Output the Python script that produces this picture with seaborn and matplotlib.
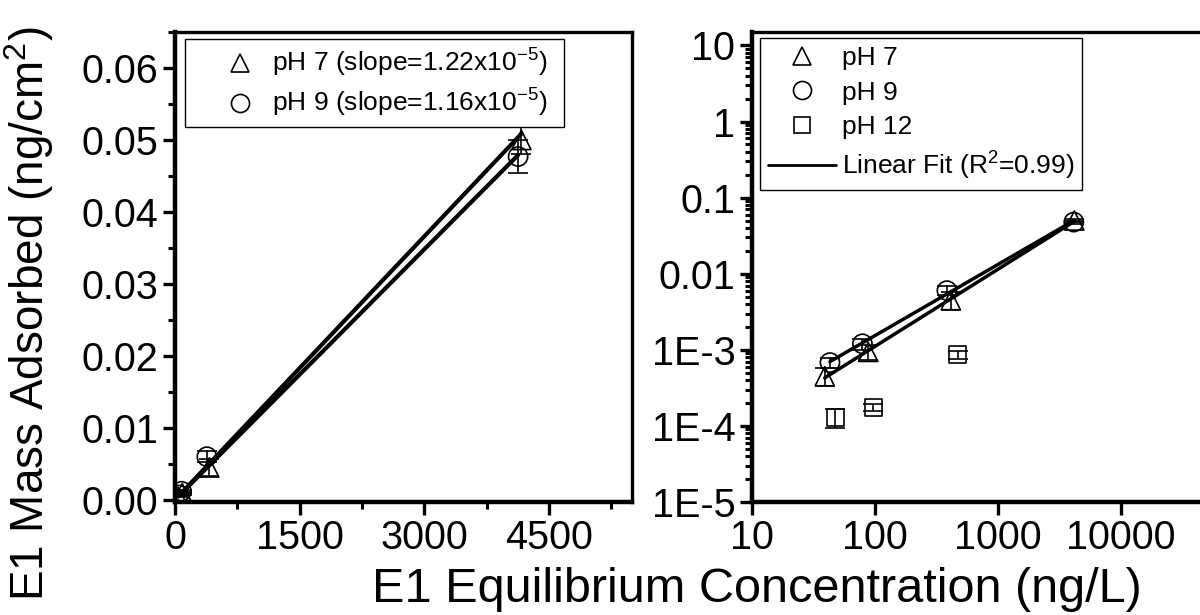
import numpy as np
import pandas as pd
import matplotlib
matplotlib.use("Agg")
import matplotlib.pyplot as plt
import seaborn as sns
from matplotlib.lines import Line2D
from matplotlib.ticker import FixedLocator, MultipleLocator, LogLocator, FuncFormatter, NullFormatter

# data
ph7_x = [39, 88, 413, 4170]
ph7_y = [0.00045, 0.00094, 0.0045, 0.0500]
ph7_err = [0.00012, 0.0002, 0.0012, 0.002]

ph9_x = [43, 79, 384, 4130]
ph9_y = [0.00068, 0.0012, 0.0060, 0.0477]
ph9_err = [0.0001, 0.0002, 0.0008, 0.0023]

ph12_x = [47.6, 97, 471]
ph12_y = [0.00013, 0.000177, 0.00086]
ph12_err = [0.000035, 0.00002, 0.0001]

slope7 = 1.22e-5
slope9 = 1.16e-5

sns.set_style("ticks")
plt.rcParams['font.family'] = ['Liberation Sans', 'DejaVu Sans']
plt.rcParams['mathtext.fontset'] = 'custom'
plt.rcParams['mathtext.rm'] = 'Liberation Sans'
plt.rcParams['mathtext.it'] = 'Liberation Sans:italic'
plt.rcParams['text.color'] = 'black'
plt.rcParams['axes.edgecolor'] = 'black'

df7 = pd.DataFrame({"x": ph7_x, "y": ph7_y})
df9 = pd.DataFrame({"x": ph9_x, "y": ph9_y})
df12 = pd.DataFrame({"x": ph12_x, "y": ph12_y})

fig = plt.figure(figsize=(12, 6.15), dpi=100)
ax1 = fig.add_axes([0.1458, 0.1837, 0.3808, 0.7642])
ax2 = fig.add_axes([0.6267, 0.1837, 0.41, 0.7642])

msize = 190
for ax in (ax1, ax2):
    for d, err, mk in ((df7, ph7_err, '^'), (df9, ph9_err, 'o')):
        ax.errorbar(d["x"], d["y"], yerr=err, fmt='none', ecolor='black',
                    elinewidth=1.2, capsize=7, capthick=1.2, zorder=2)
        sns.scatterplot(data=d, x="x", y="y", marker=mk, s=msize, facecolor='none',
                        edgecolor='black', linewidth=1.2, ax=ax, zorder=3)

# left: linear fits through origin
for d, sl in ((df7, slope7), (df9, slope9)):
    xs = np.array([d["x"].min(), d["x"].max()])
    sns.lineplot(x=xs, y=sl * xs, color='black', lw=3, ax=ax1, zorder=4)

# right: fits in log space
ax2.errorbar(df12["x"], df12["y"], yerr=ph12_err, fmt='none', ecolor='black',
             elinewidth=1.2, capsize=7, capthick=1.2, zorder=2)
sns.scatterplot(data=df12, x="x", y="y", marker='s', s=150, facecolor='none',
                edgecolor='black', linewidth=1.2, ax=ax2, zorder=3)
for d in (df7, df9):
    p = np.polyfit(np.log10(d["x"]), np.log10(d["y"]), 1)
    xs = np.array([d["x"].min(), d["x"].max()])
    sns.lineplot(x=xs, y=10 ** np.polyval(p, np.log10(xs)), color='black', lw=2.5, ax=ax2, zorder=4)

# axes styling
ax1.set_xlim(0, 5500)
ax1.set_ylim(-0.0003, 0.065)
ax1.xaxis.set_major_locator(FixedLocator([0, 1500, 3000, 4500]))
ax1.xaxis.set_minor_locator(MultipleLocator(750))
ax1.yaxis.set_major_locator(MultipleLocator(0.01))
ax1.yaxis.set_minor_locator(MultipleLocator(0.005))
ax1.yaxis.set_major_formatter(FuncFormatter(lambda v, p: f"{v:.2f}"))

ax2.set_xscale('log')
ax2.set_yscale('log')
ax2.set_xlim(10, 1e5)
ax2.set_ylim(1e-5, 15)
ax2.xaxis.set_major_locator(FixedLocator([10, 100, 1000, 10000]))
ax2.xaxis.set_minor_locator(LogLocator(base=10, subs=np.arange(2, 10)))
ax2.xaxis.set_minor_formatter(NullFormatter())
ax2.xaxis.set_major_formatter(FuncFormatter(lambda v, p: f"{int(round(v))}"))
ax2.yaxis.set_major_locator(FixedLocator([1e-5, 1e-4, 1e-3, 1e-2, 1e-1, 1, 10]))
ax2.yaxis.set_minor_locator(LogLocator(base=10, subs=np.arange(2, 10), numticks=20))
ax2.yaxis.set_minor_formatter(NullFormatter())
ylabs = {1e-5: "1E-5", 1e-4: "1E-4", 1e-3: "1E-3", 1e-2: "0.01", 1e-1: "0.1", 1: "1", 10: "10"}
ax2.yaxis.set_major_formatter(FuncFormatter(
    lambda v, p: min(ylabs.items(), key=lambda kv: abs(np.log10(kv[0]) - np.log10(v)))[1]))

for ax in (ax1, ax2):
    ax.set_xlabel("")
    ax.set_ylabel("")
    for s in ('left', 'bottom'):
        ax.spines[s].set_linewidth(3.2)
    for s in ('top', 'right'):
        ax.spines[s].set_linewidth(2.4)
        ax.spines[s].set_visible(True)
    for s in ax.spines.values():
        s.set_color('black')
    ax.tick_params(which='major', direction='out', length=9, width=2.4, labelsize=28.5,
                   pad=3, color='black', labelcolor='black')
    ax.tick_params(which='minor', direction='out', length=5, width=2.2, color='black')
    ax.tick_params(top=False, right=False, which='both')

# legends
h7 = Line2D([], [], marker='^', ls='none', mfc='none', mec='black', ms=13, mew=1.2)
h9 = Line2D([], [], marker='o', ls='none', mfc='none', mec='black', ms=13, mew=1.2)
h12 = Line2D([], [], marker='s', ls='none', mfc='none', mec='black', ms=11, mew=1.2)
hfit = Line2D([], [], color='black', lw=2)

leg1 = ax1.legend([h7, h9], [r"pH 7 (slope=1.22x10$^{\mathregular{-5}}$)  ",
                             r"pH 9 (slope=1.16x10$^{\mathregular{-5}}$)  "],
                  loc='upper left', bbox_to_anchor=(0.022, 0.985), fontsize=19,
                  frameon=True, fancybox=False, edgecolor='black', framealpha=1,
                  handlelength=3.6, handletextpad=-0.6, labelspacing=0.3,
                  borderpad=0.3, borderaxespad=0)
leg1.get_frame().set_linewidth(1.0)

leg2 = ax2.legend([h7, h9, h12, hfit], ["pH 7", "pH 9", "pH 12",
                                        r"Linear Fit (R$^{\mathregular{2}}$=0.99)"],
                  loc='upper left', bbox_to_anchor=(0.016, 0.987), fontsize=19,
                  frameon=True, fancybox=False, edgecolor='black', framealpha=1,
                  handlelength=2.6, handletextpad=0.2, labelspacing=0.4,
                  borderpad=0.3, borderaxespad=0)
leg2.get_frame().set_linewidth(1.0)

fig.text(0.024, 0.49, r"E1 Mass Adsorbed (ng/cm$^{\mathregular{2}}$)", rotation=90,
         ha='center', va='center', fontsize=33)
fig.text(0.631, 0.042, "E1 Equilibrium Concentration (ng/L)", ha='center',
         va='center', fontsize=35)

fig.savefig("out.png", dpi=100)
